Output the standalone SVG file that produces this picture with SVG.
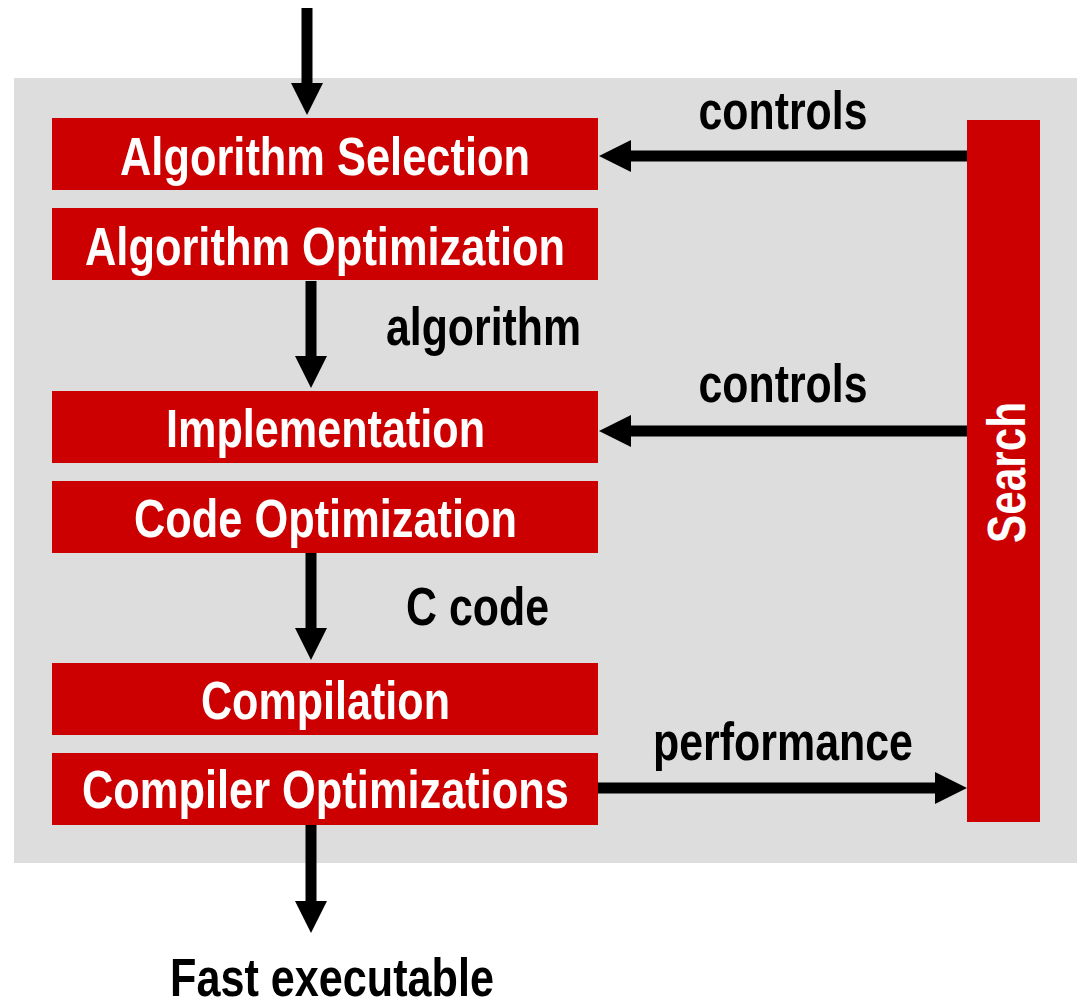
<svg xmlns="http://www.w3.org/2000/svg" width="1077" height="1007" viewBox="0 0 1077 1007">
<style>
.box{fill:#CC0000}
.bt{fill:#FFFFFF;font-family:"Liberation Sans",Arial,sans-serif;font-weight:bold;font-size:54px;text-anchor:middle}
.lb{fill:#000000;font-family:"Liberation Sans",Arial,sans-serif;font-weight:bold;font-size:54px;text-anchor:middle}
.cn{stroke:#000000;stroke-width:11;fill:none;marker-end:url(#ah)}
</style>
<defs>
<marker id="ah" markerUnits="userSpaceOnUse" markerWidth="32" markerHeight="32" refX="4" refY="16" orient="auto" overflow="visible">
<path d="M0,0 L32,16 L0,32 Z" fill="#000000"/>
</marker>
</defs>
<rect x="14" y="78" width="1063" height="785" fill="#DDDDDD"/>
<g id="connectors">
<line class="cn" x1="307" y1="8" x2="307" y2="87"/>
<line class="cn" x1="311" y1="281" x2="311" y2="360"/>
<line class="cn" x1="311" y1="553" x2="311" y2="632"/>
<line class="cn" x1="311" y1="825" x2="311" y2="905"/>
<line class="cn" x1="968" y1="156" x2="627" y2="156"/>
<line class="cn" x1="968" y1="431" x2="627" y2="431"/>
<line class="cn" x1="598" y1="788" x2="939" y2="788"/>
</g>
<g id="labels">
<text class="lb" x="783" y="129" textLength="169" lengthAdjust="spacingAndGlyphs">controls</text>
<text class="lb" x="483.5" y="345" textLength="195" lengthAdjust="spacingAndGlyphs">algorithm</text>
<text class="lb" x="783" y="402" textLength="169" lengthAdjust="spacingAndGlyphs">controls</text>
<text class="lb" x="477.5" y="625" textLength="143" lengthAdjust="spacingAndGlyphs">C code</text>
<text class="lb" x="783" y="760" textLength="260" lengthAdjust="spacingAndGlyphs">performance</text>
<text class="lb" x="332" y="996" textLength="324" lengthAdjust="spacingAndGlyphs">Fast executable</text>
</g>
<g id="algorithm-selection">
<rect class="box" x="52" y="118" width="546" height="72"/>
<text class="bt" x="325" y="175" textLength="410" lengthAdjust="spacingAndGlyphs">Algorithm Selection</text>
</g>
<g id="algorithm-optimization">
<rect class="box" x="52" y="208" width="546" height="72"/>
<text class="bt" x="325" y="265" textLength="480" lengthAdjust="spacingAndGlyphs">Algorithm Optimization</text>
</g>
<g id="implementation">
<rect class="box" x="52" y="391" width="546" height="72"/>
<text class="bt" x="325.5" y="447" textLength="319" lengthAdjust="spacingAndGlyphs">Implementation</text>
</g>
<g id="code-optimization">
<rect class="box" x="52" y="481" width="546" height="72"/>
<text class="bt" x="325.5" y="537" textLength="383" lengthAdjust="spacingAndGlyphs">Code Optimization</text>
</g>
<g id="compilation">
<rect class="box" x="52" y="663" width="546" height="72"/>
<text class="bt" x="325.5" y="719" textLength="249" lengthAdjust="spacingAndGlyphs">Compilation</text>
</g>
<g id="compiler-optimizations">
<rect class="box" x="52" y="753" width="546" height="72"/>
<text class="bt" x="325.5" y="808" textLength="487" lengthAdjust="spacingAndGlyphs">Compiler Optimizations</text>
</g>
<g id="search">
<rect class="box" x="967" y="120" width="73" height="702"/>
<text class="bt" x="0" y="0" transform="translate(1025,472.5) rotate(-90)" textLength="141" lengthAdjust="spacingAndGlyphs">Search</text>
</g>
</svg>
